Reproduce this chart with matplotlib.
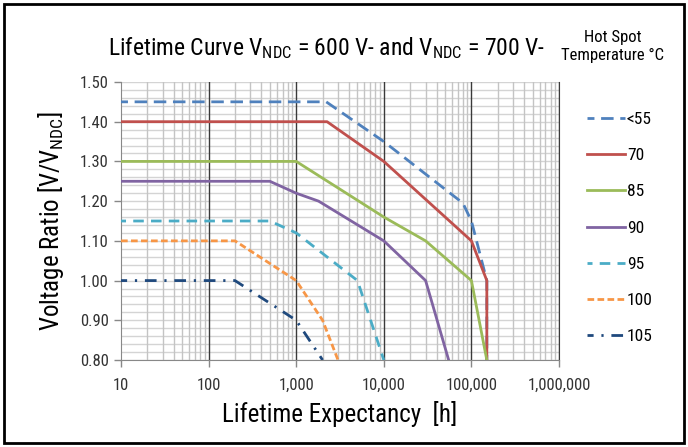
import numpy as np
import matplotlib
matplotlib.use("Agg")
import matplotlib.pyplot as plt
from matplotlib import font_manager
from matplotlib.patches import Rectangle
from matplotlib.ticker import FuncFormatter, FixedLocator

# narrow font like Arial Narrow, take the first one installed
names = set(f.name for f in font_manager.fontManager.ttflist)
font = 'DejaVu Sans'
for cand in ['Liberation Sans Narrow', 'Roboto Condensed', 'Archivo Narrow', 'Barlow Semi Condensed']:
    if cand in names:
        font = cand
        break
plt.rcParams['font.family'] = [font, 'DejaVu Sans']
plt.rcParams['mathtext.fontset'] = 'custom'
plt.rcParams['mathtext.rm'] = font
plt.rcParams['mathtext.it'] = font

# data (hours, voltage ratio)
t_55 = [10, 2200, 10000, 50000, 80000, 100000, 150000, 150000]
v_55 = [1.45, 1.45, 1.35, 1.23, 1.195, 1.15, 1.00, 0.80]
t_70 = [10, 2250, 10000, 100000, 150000, 150000]
v_70 = [1.40, 1.40, 1.30, 1.10, 1.00, 0.80]
t_85 = [10, 1000, 10000, 30000, 100000, 150000]
v_85 = [1.30, 1.30, 1.16, 1.10, 1.00, 0.80]
t_90 = [10, 500, 1000, 1800, 10000, 30000, 55000]
v_90 = [1.25, 1.25, 1.22, 1.20, 1.10, 1.00, 0.80]
t_95 = [10, 500, 1000, 5000, 10000]
v_95 = [1.15, 1.15, 1.12, 1.00, 0.80]
t_100 = [10, 200, 1000, 2000, 3000]
v_100 = [1.10, 1.10, 1.00, 0.90, 0.80]
t_105 = [10, 200, 1000, 2000]
v_105 = [1.00, 1.00, 0.90, 0.80]

labels = ['<55', '70', '85', '90', '95', '100', '105']
x_ticks = [10, 100, 1000, 10000, 100000, 1000000]
y_ticks = [0.80, 0.90, 1.00, 1.10, 1.20, 1.30, 1.40, 1.50]

series = [(t_55, v_55, '#4F81BD', (2, (4.5, 2.4))),
          (t_70, v_70, '#C0504D', '-'),
          (t_85, v_85, '#9BBB59', '-'),
          (t_90, v_90, '#8064A2', '-'),
          (t_95, v_95, '#4BACC6', (2, (3.8, 2.6))),
          (t_100, v_100, '#F79646', (0, (2.4, 1.2))),
          (t_105, v_105, '#1F497D', (2, (4.2, 2.8, 0.8, 2.8)))]

fig = plt.figure(figsize=(6.88, 4.47), dpi=100)
ax = fig.add_axes([0.1759, 0.1946, 0.6366, 0.622])

for (t, v, c, ls), lab in zip(series, labels):
    ax.plot(t, v, color=c, linestyle=ls, linewidth=2.0, label=lab, zorder=3)

ax.set_xscale('log')
ax.set_xlim(10, 1000000)
ax.set_ylim(0.80, 1.50)

# grid like the excel chart
for yy in np.arange(0.80, 1.501, 0.02):
    ax.axhline(yy, color='#d4d4d4', linewidth=1.0, zorder=1)
for dec in [10, 100, 1000, 10000, 100000]:
    for m in range(2, 10):
        ax.axvline(dec * m, color='#c4c4c4', linewidth=1.0, zorder=1)
for xx in x_ticks[1:]:
    ax.axvline(xx, color='#3a3a3a', linewidth=1.0, zorder=2)

ax.xaxis.set_major_locator(FixedLocator(x_ticks))
ax.xaxis.set_minor_locator(FixedLocator([]))
ax.xaxis.set_major_formatter(FuncFormatter(lambda x, p: '{:,.0f}'.format(x)))
ax.set_yticks(y_ticks)
ax.yaxis.set_major_formatter(FuncFormatter(lambda y, p: '{:.2f}'.format(y)))
ax.tick_params(axis='both', direction='out', length=5, width=1, color='#888888',
               labelsize=12, labelcolor='#333333', pad=4)
ax.tick_params(axis='x', pad=8)

ax.spines['top'].set_visible(False)
ax.spines['left'].set_color('#888888')
ax.spines['bottom'].set_color('#888888')
ax.spines['right'].set_color('#3a3a3a')

ax.set_xlabel('Lifetime Expectancy  [h]', fontsize=18, labelpad=6)
ax.set_ylabel(r'Voltage Ratio [V/V$_{\mathrm{NDC}}$]', fontsize=18, labelpad=10)

fig.text(0.474, 0.893, r'Lifetime Curve V$_{\mathrm{NDC}}$ = 600 V- and V$_{\mathrm{NDC}}$ = 700 V-',
         fontsize=17, ha='center', va='center')
fig.text(0.89, 0.897, 'Hot Spot\nTemperature °C', fontsize=12, ha='center', va='center',
         linespacing=1.25)

fig.legend(loc='upper left', bbox_to_anchor=(0.843, 0.765), frameon=False,
           fontsize=12.5, handlelength=2.2, handletextpad=0.1, labelspacing=1.21,
           borderaxespad=0)

fig.patches.append(Rectangle((0.006, 0.009), 0.988, 0.982, transform=fig.transFigure,
                             fill=False, edgecolor='black', linewidth=2))

fig.savefig('out.png', dpi=100)
